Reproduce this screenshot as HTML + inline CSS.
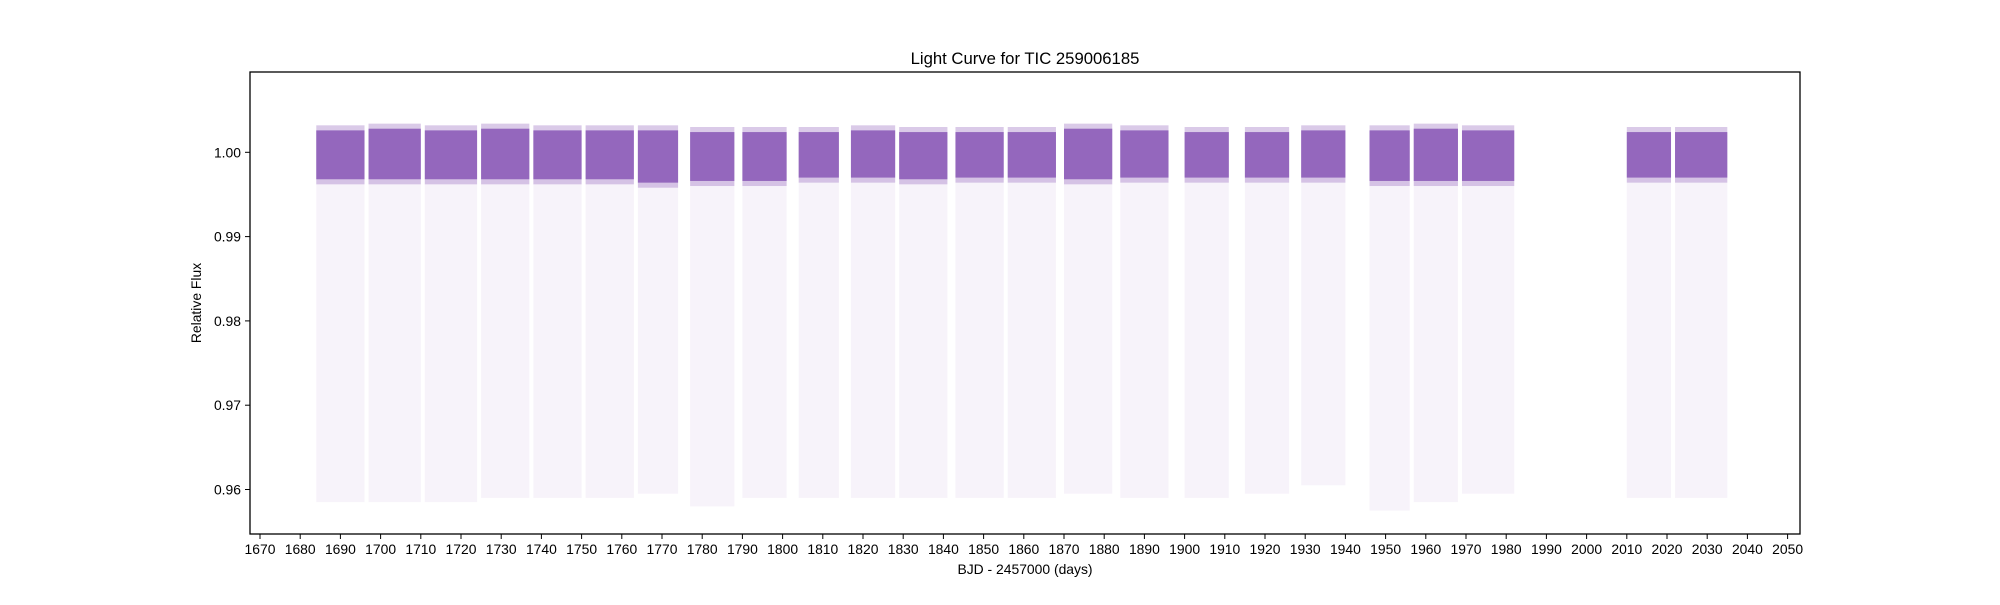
<!DOCTYPE html>
<html><head><meta charset="utf-8"><style>
body{margin:0;background:#fff;}
svg text{font-family:"Liberation Sans","DejaVu Sans",sans-serif;fill:#000;}
</style></head><body>
<svg id="chart" width="2000" height="600" viewBox="0 0 2000 600" xmlns="http://www.w3.org/2000/svg">
<rect width="2000" height="600" fill="#fff"/>
<text x="1025" y="64" font-size="16.7" text-anchor="middle">Light Curve for TIC 259006185</text>
<g id="marks"></g>
<rect x="250" y="72" width="1550" height="462" fill="none" stroke="#000" stroke-width="1.3"/>
<g id="axes"></g>
<text x="1025" y="574" font-size="13.9" text-anchor="middle">BJD - 2457000 (days)</text>
<text transform="translate(201,303) rotate(-90)" font-size="13.9" text-anchor="middle">Relative Flux</text>
</svg>
<script>
const segStart=[1684,1697,1711,1725,1738,1751,1764,1777,1790,1804,1817,1829,1843,1856,1870,1884,1900,1915,1929,1946,1957,1969,2010,2022];
const segEnd=[1696,1710,1724,1737,1750,1763,1774,1788,1801,1814,1828,1841,1855,1868,1882,1896,1911,1926,1940,1956,1968,1982,2021,2035];
const bandHigh=[1.0026,1.0028,1.0026,1.0028,1.0026,1.0026,1.0026,1.0024,1.0024,1.0024,1.0026,1.0024,1.0024,1.0024,1.0028,1.0026,1.0024,1.0024,1.0026,1.0026,1.0028,1.0026,1.0024,1.0024];
const bandLow=[0.9968,0.9968,0.9968,0.9968,0.9968,0.9968,0.9964,0.9966,0.9966,0.9970,0.9970,0.9968,0.9970,0.9970,0.9968,0.9970,0.9970,0.9970,0.9970,0.9966,0.9966,0.9966,0.9970,0.9970];
const minFlux=[0.9585,0.9585,0.9585,0.9590,0.9590,0.9590,0.9595,0.9580,0.9590,0.9590,0.9590,0.9590,0.9590,0.9590,0.9595,0.9590,0.9590,0.9595,0.9605,0.9575,0.9585,0.9595,0.9590,0.9590];
const xTicks=[1670,1680,1690,1700,1710,1720,1730,1740,1750,1760,1770,1780,1790,1800,1810,1820,1830,1840,1850,1860,1870,1880,1890,1900,1910,1920,1930,1940,1950,1960,1970,1980,1990,2000,2010,2020,2030,2040,2050];
const yTicks=[0.96,0.97,0.98,0.99,1.00];
const yTickLabels=["0.96","0.97","0.98","0.99","1.00"];
const X=d=>260+(d-1670)*4.02;
const Y=f=>152.3+(1-f)*8430;
const NS="http://www.w3.org/2000/svg";
const marks=document.getElementById('marks'), axes=document.getElementById('axes');
function mk(tag,attrs,parent){const e=document.createElementNS(NS,tag);for(const k in attrs)e.setAttribute(k,attrs[k]);parent.appendChild(e);return e;}
for(let i=0;i<segStart.length;i++){
  const x0=X(segStart[i]),x1=X(segEnd[i]);
  const c=mk('rect',{x:x0,y:Y(bandLow[i]),width:x1-x0,height:Y(minFlux[i])-Y(bandLow[i]),fill:'#9467bd','fill-opacity':0.08},marks);
  
  
  const h=mk('rect',{x:x0,y:Y(bandHigh[i]+0.0006),width:x1-x0,height:Y(bandLow[i]-0.0006)-Y(bandHigh[i]+0.0006),fill:'#9467bd','fill-opacity':0.35},marks);
  
  
  const b=mk('rect',{x:x0,y:Y(bandHigh[i]),width:x1-x0,height:Y(bandLow[i])-Y(bandHigh[i]),fill:'#9467bd'},marks);
  
  
}
xTicks.forEach(t=>{
  const l=mk('line',{x1:X(t),x2:X(t),y1:534,y2:539,stroke:'#000','stroke-width':1},axes);
  
  
  const tx=mk('text',{x:X(t),y:554,'font-size':13.9,'text-anchor':'middle'},axes);
  tx.textContent=t;
  
  
});
yTicks.forEach((t,i)=>{
  const l=mk('line',{x1:245,x2:250,y1:Y(t),y2:Y(t),stroke:'#000','stroke-width':1},axes);
  
  
  const tx=mk('text',{x:241,y:Y(t)+5,'font-size':13.9,'text-anchor':'end'},axes);
  tx.textContent=yTickLabels[i];
  
  
});
</script>
</body></html>
